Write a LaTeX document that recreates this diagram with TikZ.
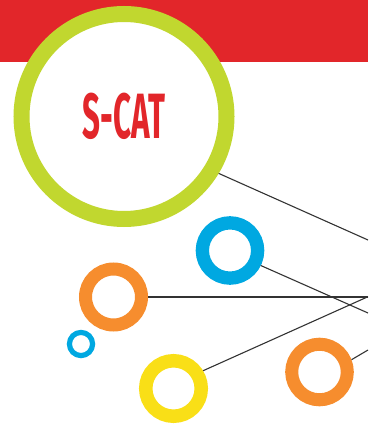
\documentclass[tikz,border=0pt]{standalone}
\usepackage{fontspec}
\usepackage{graphicx}
\usetikzlibrary{positioning}
\newfontfamily\catfont{Fira Sans}
\definecolor{scatred}{HTML}{E2262A}
\definecolor{scatgreen}{HTML}{C1D72F}
\definecolor{scatblue}{HTML}{00A8E1}
\definecolor{scatorange}{HTML}{F68D2E}
\definecolor{scatyellow}{HTML}{F9DF17}
\definecolor{linkgray}{HTML}{333333}
\tikzset{
    ring/.style={draw, circle, fill=white, inner sep=0pt},
    link/.style={draw=linkgray, line width=1.1pt}
}

\begin{document}
\begin{tikzpicture}[x=1pt, y=-1pt]
                        \useasboundingbox (0,0) rectangle (368,427);
                        \fill[scatred] (0,0) rectangle (368,62);

                        \node[ring, draw=scatgreen, line width=16pt, minimum size=205pt] (scat) at (124,116.5)
                            {\catfont\bfseries\fontsize{64}{64}\selectfont\color{scatred}\scalebox{0.49}[1]{S-CAT}};
                        \node[ring, draw=scatblue, line width=13.3pt, minimum size=55.3pt] (blue1) at (230,250.5) {};
                        \node[ring, draw=scatorange, line width=13pt, minimum size=56pt] (orange1) at (113.5,297) {};
                        \node[ring, draw=scatblue, line width=5.2pt, minimum size=23.2pt] (blue2) at (81,344) {};
                        \node[ring, draw=scatyellow, line width=13.5pt, minimum size=55.5pt] (yellow1) at (173.5,388.5) {};
                        \node[ring, draw=scatorange, line width=13pt, minimum size=55.6pt] (orange2) at (319.5,372) {};

                        \coordinate (e1) at (368,240);
                        \coordinate (e2) at (368,313);
                        \coordinate (e3) at (368,297);
                        \coordinate (e4) at (368,296.7);
                        \coordinate (e5) at (368,350);

                        \draw
                        (scat.-31) edge[link] (e1)
                        (blue1.-26.6) edge[link] (e2)
                        (orange1.0) edge[link] (e3)
                        (yellow1.31) edge[link] (e4)
                        (orange2.21.8) edge[link] (e5);
                    \end{tikzpicture}
\end{document}
